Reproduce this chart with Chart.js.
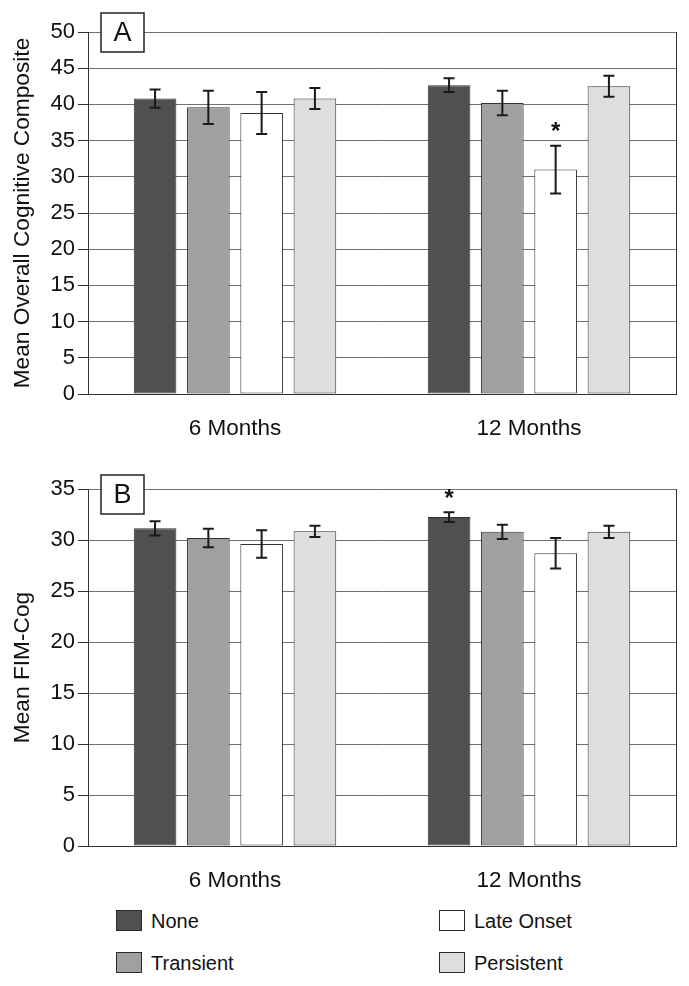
<!DOCTYPE html>
<html>
<head>
<meta charset="utf-8">
<script src="https://cdn.jsdelivr.net/npm/chart.js@4.4.1/dist/chart.umd.min.js"></script>
<style>
  body { margin: 0; background: #fff; font-family: "Liberation Sans", Arial, sans-serif; }
  #wrap { position: relative; width: 689px; height: 986px; }
  canvas { position: absolute; left: 0; }
  #cogChart { top: 0; }
  #fimChart { top: 450px; }
  .leg { position: absolute; font-size: 20px; color: #111; height: 22px; line-height: 22px; }
  .leg span.box { position: absolute; left: 0; top: 0; width: 24px; height: 19px; border: 1.5px solid #2a2a2a; }
  .leg span.txt { position: absolute; left: 35px; top: 0; white-space: nowrap; }
</style>
</head>
<body>
<div id="wrap">
  <canvas id="cogChart" width="689" height="450"></canvas>
  <canvas id="fimChart" width="689" height="440"></canvas>
  <div id="legend"></div>
</div>
<script>
// categories and series
var timepoints = ['6 Months', '12 Months'];
var groups = ['None', 'Transient', 'Late Onset', 'Persistent'];
var groupColors = ['#505050', '#a0a0a0', '#ffffff', '#dedede'];

// panel A: mean overall cognitive composite (+/- error)
var cogNone = [40.8, 42.65];
var cogTransient = [39.6, 40.2];
var cogLate = [38.8, 31.0];
var cogPersistent = [40.8, 42.5];
var cogErrNone = [1.25, 0.95];
var cogErrTransient = [2.3, 1.7];
var cogErrLate = [2.9, 3.3];
var cogErrPersistent = [1.45, 1.45];
var cogStars = [[], [], [1], []]; // significant: late onset at 12 months

// panel B: mean FIM-Cog (+/- error)
var fimNone = [31.15, 32.25];
var fimTransient = [30.2, 30.8];
var fimLate = [29.6, 28.7];
var fimPersistent = [30.85, 30.8];
var fimErrNone = [0.7, 0.48];
var fimErrTransient = [0.9, 0.7];
var fimErrLate = [1.35, 1.5];
var fimErrPersistent = [0.55, 0.6];
var fimStars = [[1], [], [], []]; // significant: none at 12 months

Chart.defaults.font.family = '"Liberation Sans", Arial, sans-serif';
Chart.defaults.color = '#111';

// error bars + asterisks
var errorBars = {
  id: 'errorBars',
  afterDatasetsDraw: function(chart, args, opts) {
    var ctx = chart.ctx, ys = chart.scales.y;
    ctx.save();
    chart.data.datasets.forEach(function(ds, i) {
      var meta = chart.getDatasetMeta(i);
      meta.data.forEach(function(bar, j) {
        var v = ds.data[j], e = opts.errors[i][j];
        var top = ys.getPixelForValue(v + e), bot = ys.getPixelForValue(v - e);
        ctx.strokeStyle = '#1a1a1a';
        ctx.lineWidth = 2;
        ctx.beginPath();
        ctx.moveTo(bar.x, top); ctx.lineTo(bar.x, bot);
        ctx.moveTo(bar.x - 5.5, top); ctx.lineTo(bar.x + 5.5, top);
        ctx.moveTo(bar.x - 5.5, bot); ctx.lineTo(bar.x + 5.5, bot);
        ctx.stroke();
        if (opts.stars[i].indexOf(j) >= 0) {
          ctx.fillStyle = '#111';
          ctx.font = 'bold 24px "Liberation Sans", Arial, sans-serif';
          ctx.textAlign = 'center';
          ctx.textBaseline = 'middle';
          ctx.fillText('*', bar.x, top - 13);
        }
      });
    });
    ctx.restore();
  }
};

// right frame line and panel tag box
var frame = {
  id: 'frame',
  afterDraw: function(chart, args, opts) {
    var ctx = chart.ctx, a = chart.chartArea;
    ctx.save();
    ctx.strokeStyle = '#333';
    ctx.lineWidth = 1;
    ctx.beginPath();
    ctx.moveTo(a.right + 0.5, a.top);
    ctx.lineTo(a.right + 0.5, a.bottom);
    ctx.stroke();
    ctx.fillStyle = '#fff';
    ctx.fillRect(101, opts.tagTop, 43, 39);
    ctx.strokeStyle = '#222';
    ctx.lineWidth = 1.5;
    ctx.strokeRect(101, opts.tagTop, 43, 39);
    ctx.fillStyle = '#111';
    ctx.font = '27px "Liberation Sans", Arial, sans-serif';
    ctx.textAlign = 'center';
    ctx.textBaseline = 'middle';
    ctx.fillText(opts.tag, 122.5, opts.tagTop + 21);
    ctx.restore();
  }
};

function makeChart(id, title, series, errors, stars, yMax, padTop, xHeight, tag, tagTop) {
  return new Chart(document.getElementById(id), {
    type: 'bar',
    data: {
      labels: timepoints,
      datasets: groups.map(function(g, i) {
        return {
          label: g,
          data: series[i],
          backgroundColor: groupColors[i],
          borderColor: '#333',
          borderWidth: 1,
          borderSkipped: false,
          categoryPercentage: 0.725,
          barPercentage: 0.8
        };
      })
    },
    options: {
      responsive: false,
      animation: false,
      layout: { padding: { top: padTop, right: 13, left: 0, bottom: 0 } },
      plugins: {
        legend: { display: false },
        tooltip: { enabled: false },
        errorBars: { errors: errors, stars: stars },
        frame: { tag: tag, tagTop: tagTop }
      },
      scales: {
        x: {
          grid: { display: false },
          border: { display: true, color: '#333', width: 1 },
          ticks: { font: { size: 22.5 }, color: '#111', padding: 13 },
          afterFit: function(s) { s.height = xHeight; }
        },
        y: {
          min: 0,
          max: yMax,
          ticks: { stepSize: 5, font: { size: 22 }, color: '#111', padding: 3 },
          grid: { color: '#707070', lineWidth: 1, tickLength: 10, tickColor: '#333' },
          border: { display: true, color: '#333', width: 1 },
          title: { display: true, text: title, font: { size: 22.7 }, color: '#111', padding: { top: 9, bottom: 0 } },
          afterFit: function(s) { s.width = 88; }
        }
      }
    },
    plugins: [errorBars, frame]
  });
}

makeChart('cogChart', 'Mean Overall Cognitive Composite',
  [cogNone, cogTransient, cogLate, cogPersistent],
  [cogErrNone, cogErrTransient, cogErrLate, cogErrPersistent],
  cogStars, 50, 32, 56, 'A', 13);

makeChart('fimChart', 'Mean FIM-Cog',
  [fimNone, fimTransient, fimLate, fimPersistent],
  [fimErrNone, fimErrTransient, fimErrLate, fimErrPersistent],
  fimStars, 35, 39, 44, 'B', 25);

// legend in two columns
var legPos = [[116, 910], [116, 952], [439, 910], [439, 952]];
var legend = document.getElementById('legend');
groups.forEach(function(g, i) {
  var d = document.createElement('div');
  d.className = 'leg';
  d.style.left = legPos[i][0] + 'px';
  d.style.top = legPos[i][1] + 'px';
  d.innerHTML = '<span class="box" style="background:' + groupColors[i] + '"></span><span class="txt">' + g + '</span>';
  legend.appendChild(d);
});
</script>
</body>
</html>
